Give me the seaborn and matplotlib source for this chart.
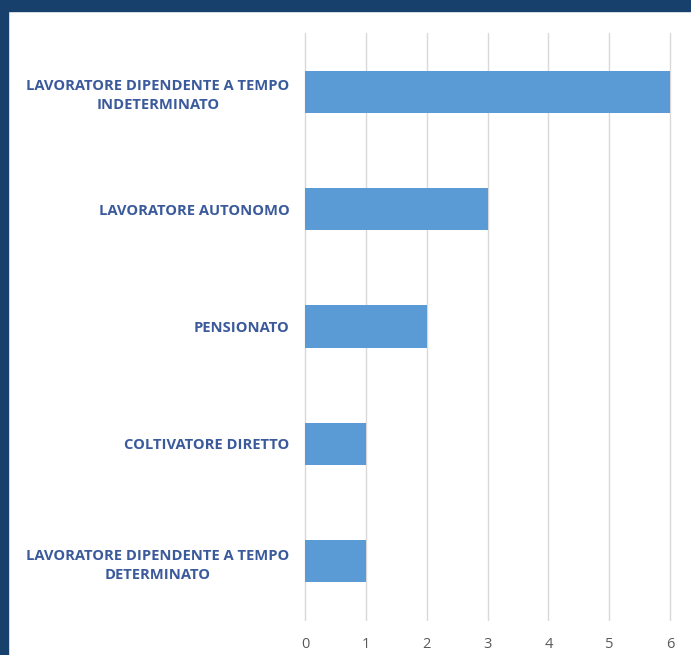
import matplotlib
matplotlib.use("Agg")
import matplotlib.pyplot as plt
import matplotlib.patches as mpatches
import seaborn as sns
import pandas as pd

categories = [
    "LAVORATORE DIPENDENTE A TEMPO\nINDETERMINATO",
    "LAVORATORE AUTONOMO",
    "PENSIONATO",
    "COLTIVATORE DIRETTO",
    "LAVORATORE DIPENDENTE A TEMPO\nDETERMINATO",
]
counts = [6, 3, 2, 1, 1]
x_ticks = [0, 1, 2, 3, 4, 5, 6]

df = pd.DataFrame({"categoria": categories, "valore": counts})

sns.set_style("white")
plt.rcParams["font.family"] = ["Open Sans", "DejaVu Sans"]

fig = plt.figure(figsize=(6.91, 6.55), dpi=100)
ax = fig.add_axes([305 / 691, 35 / 655, 365 / 691, 587 / 655])

sns.barplot(data=df, x="valore", y="categoria", color="#5B9BD5",
            saturation=1, width=0.36, ax=ax, orient="h", linewidth=0)

ax.set_xlim(0, 6)
ax.set_ylim(4.5, -0.5)
ax.set_xticks(x_ticks)
ax.set_xlabel("")
ax.set_ylabel("")
ax.grid(axis="x", color="#D9D9D9", linewidth=1)
for gl in ax.get_xgridlines():
    gl.set_clip_on(False)
ax.set_axisbelow(True)
for s in ax.spines.values():
    s.set_visible(False)
ax.tick_params(axis="x", length=0, pad=12, labelsize=10.5, labelcolor="#595959")
ax.tick_params(axis="y", length=0, pad=11)
for lbl in ax.get_yticklabels():
    lbl.set_fontweight("bold")
    lbl.set_fontsize(10.6)
    lbl.set_color("#3A5A9B")
    lbl.set_multialignment("center")
    lbl.set_linespacing(1.45)

# dark frame on top and left edges
fig.patches.append(mpatches.Rectangle((0, 1 - 11 / 655), 1, 11 / 655,
                                      transform=fig.transFigure, color="#17406D", zorder=0))
fig.patches.append(mpatches.Rectangle((0, 0), 8 / 691, 1,
                                      transform=fig.transFigure, color="#17406D", zorder=0))

fig.savefig("out.png", dpi=100)
